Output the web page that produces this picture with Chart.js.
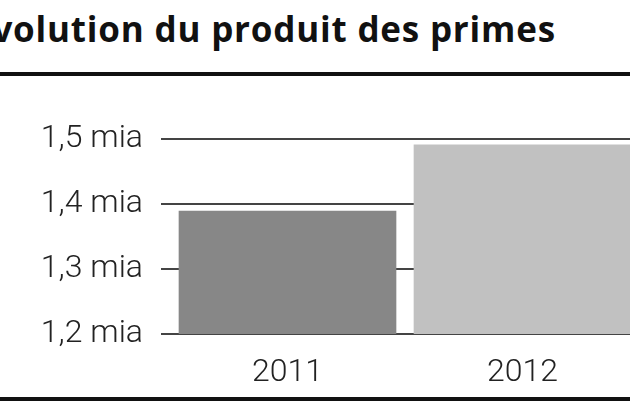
<!DOCTYPE html>
<html><head><meta charset="utf-8">
<script src="https://cdn.jsdelivr.net/npm/chart.js@4/dist/chart.umd.min.js"></script>
<style>
html,body{margin:0;padding:0;width:630px;height:412px;overflow:hidden;background:#fff;}
#title{position:absolute;left:-28px;top:5px;font-family:"Open Sans",sans-serif;font-weight:700;font-size:35px;color:#111;white-space:nowrap;letter-spacing:0.8px;}
#topline{position:absolute;left:0;top:72px;width:630px;height:4px;background:#111;}
#botline{position:absolute;left:0;top:397px;width:630px;height:4px;background:#111;}
#wrap{position:absolute;left:0;top:0;width:640px;height:412px;}
</style></head>
<body>
<div id="title">Évolution du produit des primes</div>
<div id="topline"></div>
<div id="botline"></div>
<div id="wrap"><canvas id="c" width="640" height="412"></canvas></div>
<script>
const categories = ["2011", "2012"];
const values = [1.389, 1.491];
const tickValues = [1.2, 1.3, 1.4, 1.5];
const tickLabels = ["1,2 mia", "1,3 mia", "1,4 mia", "1,5 mia"];
const barColors = ["#878787", "#c1c1c1"];

new Chart(document.getElementById('c'), {
  type: 'bar',
  data: { labels: categories, datasets: [{ data: values, backgroundColor: barColors, borderWidth: 0, barThickness: 217 }] },
  options: {
    responsive: false, animation: false,
    layout: { padding: { top: 139, left: 0, right: 0, bottom: 28 } },
    plugins: { legend: { display: false }, tooltip: { enabled: false } },
    scales: {
      x: {
        grid: { display: false }, border: { display: false },
        ticks: { color: '#222', font: { family: 'Roboto', size: 32, weight: '300' }, padding: 12 },
        afterFit: s => { s.height = 50; }
      },
      y: {
        min: 1.2, max: 1.5,
        afterBuildTicks: s => { s.ticks = tickValues.map(v => ({ value: v })); },
        grid: { color: '#444', lineWidth: 2, tickLength: 9, drawTicks: true },
        border: { display: false },
        ticks: { color: '#222', font: { family: 'Roboto', size: 32, weight: '300' }, padding: 18,
          callback: (v) => { const i = tickValues.findIndex(t => Math.abs(t - v) < 1e-9); return i >= 0 ? tickLabels[i] : ''; } },
        afterFit: s => { s.width = 170; }
      }
    }
  }
});
</script>
</body></html>
